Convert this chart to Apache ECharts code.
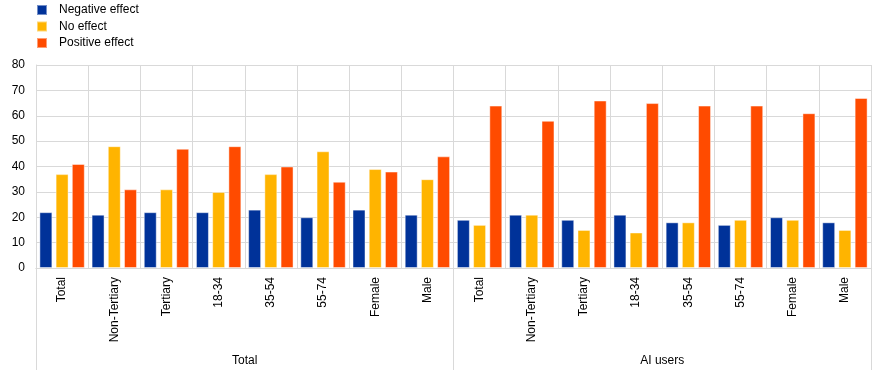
<!DOCTYPE html>
<html><head><meta charset="utf-8">
<script src="https://cdn.jsdelivr.net/npm/echarts@6/dist/echarts.min.js"></script>
<style>html,body{margin:0;padding:0;background:#fff}#c{width:876px;height:375px}</style>
</head><body><div id="c"></div>
<script>
var categories = ['Total','Non-Tertiary','Tertiary','18-34','35-54','55-74','Female','Male',
                  'Total','Non-Tertiary','Tertiary','18-34','35-54','55-74','Female','Male'];
var groups = ['Total','AI users'];
var negative = [22,21,22,22,23,20,23,21, 19,21,19,21,18,17,20,18];
var noEffect = [37,48,31,30,37,46,39,35, 17,21,15,14,18,19,19,15];
var positive = [41,31,47,48,40,34,38,44, 64,58,66,65,64,64,61,67];
var yTicks = {min:0, max:80, interval:10};

var font = '"Liberation Sans", Arial, sans-serif';
var chart = echarts.init(document.getElementById('c'), null, {renderer:'canvas'});
function bar(name, data, color){
  return {name:name, type:'bar', data:data, xAxisIndex:0, barGap:'25%', barCategoryGap:'13%',
    itemStyle:{color:color, borderColor:'rgba(255,255,255,0.45)', borderWidth:1}};
}
chart.setOption({
  animation:false,
  textStyle:{fontFamily:font},
  legend:{orient:'vertical', left:36, top:4, padding:0, itemWidth:10, itemHeight:10, itemGap:4.5,
    icon:'rect', textStyle:{fontFamily:font, fontSize:12, color:'#000', padding:[0,0,0,7]},
    data:['Negative effect','No effect','Positive effect']},
  grid:{left:36, right:5, top:65, bottom:107, containLabel:false},
  xAxis:[{
    type:'category', data:categories, position:'bottom',
    axisLine:{show:true, lineStyle:{color:'#d9d9d9'}},
    axisTick:{show:false},
    splitLine:{show:true, lineStyle:{color:'#d9d9d9'}},
    axisLabel:{rotate:90, margin:9, fontSize:12, color:'#000', fontFamily:font, interval:0}
  },{
    type:'category', data:groups, position:'bottom', offset:0,
    axisLine:{show:true, lineStyle:{color:'#d9d9d9'}},
    axisTick:{show:true, length:102, lineStyle:{color:'#d9d9d9'}},
    axisLabel:{margin:87, fontSize:12, color:'#000', fontFamily:font}
  }],
  yAxis:{type:'value', min:yTicks.min, max:yTicks.max, interval:yTicks.interval,
    axisLine:{show:true, lineStyle:{color:'#d9d9d9'}},
    axisTick:{show:false},
    splitLine:{show:true, lineStyle:{color:'#d9d9d9'}},
    axisLabel:{fontSize:12, color:'#000', margin:11, fontFamily:font}},
  series:[bar('Negative effect', negative, '#003299'),
          bar('No effect', noEffect, '#FFB400'),
          bar('Positive effect', positive, '#FF4B00')]
});
</script></body></html>
